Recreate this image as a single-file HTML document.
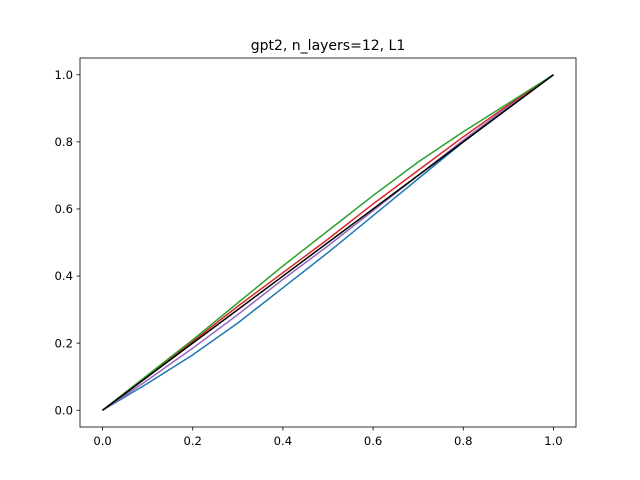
<!DOCTYPE html>
<html><head><meta charset="utf-8"><style>body{margin:0;background:#fff}svg{display:block;font-family:"DejaVu Sans","Liberation Sans",sans-serif}</style></head>
<body>
<svg id="chart" width="640" height="480"></svg>
<script>
const xVals=[0,0.1,0.2,0.3,0.4,0.5,0.6,0.7,0.8,0.9,1.0];
const blueVals=[0,0.08,0.165,0.26,0.365,0.47,0.58,0.69,0.8,0.9,1.0];
const purpleVals=[0,0.09,0.185,0.285,0.39,0.49,0.595,0.7,0.805,0.905,1.0];
const redVals=[0,0.1,0.205,0.31,0.41,0.51,0.615,0.715,0.815,0.91,1.0];
const greenVals=[0,0.105,0.21,0.32,0.43,0.535,0.64,0.74,0.83,0.915,1.0];
const blackVals=[0,0.1,0.2,0.3,0.4,0.5,0.6,0.7,0.8,0.9,1.0];
const seriesColors=["#1f77b4","#9467bd","#d62728","#2ca02c","#000000"];
const seriesNames=["blue-series","purple-series","red-series","green-series","black-series"];
const allSeries=[blueVals,purpleVals,redVals,greenVals,blackVals];
const xTicks=[0.0,0.2,0.4,0.6,0.8,1.0];
const yTicks=[0.0,0.2,0.4,0.6,0.8,1.0];
const NS="http://www.w3.org/2000/svg";
const svg=document.getElementById('chart');
const L=80,R=576,T=58,B=427;
const sx=v=>L+(v+0.05)/1.1*(R-L);
const sy=v=>B-(v+0.05)/1.1*(B-T);
function mk(tag,attrs,parent){const e=document.createElementNS(NS,tag);for(const k in attrs)e.setAttribute(k,attrs[k]);(parent||svg).appendChild(e);return e;}
const title=mk('text',{x:(L+R)/2,y:50,'text-anchor':'middle','font-size':14,fill:'#000'});
title.textContent='gpt2, n_layers=12, L1';


allSeries.forEach((vals,i)=>{
  const p=mk('polyline',{points:vals.map((v,j)=>sx(xVals[j])+','+sy(v)).join(' '),fill:'none',stroke:seriesColors[i],'stroke-width':1.5,'stroke-linejoin':'round'});
  
  
});
const frame=mk('rect',{x:L,y:T,width:R-L,height:B-T,fill:'none',stroke:'#000','stroke-width':0.8});


xTicks.forEach(t=>{
  mk('line',{x1:sx(t),x2:sx(t),y1:B,y2:B+3.5,stroke:'#000','stroke-width':0.8});
  const tx=mk('text',{x:sx(t),y:B+18,'text-anchor':'middle','font-size':11.6,fill:'#000'});
  tx.textContent=t.toFixed(1);
  
  
});
yTicks.forEach(t=>{
  mk('line',{x1:L-3.5,x2:L,y1:sy(t),y2:sy(t),stroke:'#000','stroke-width':0.8});
  const tx=mk('text',{x:L-7,y:sy(t)+4.2,'text-anchor':'end','font-size':11.6,fill:'#000'});
  tx.textContent=t.toFixed(1);
  
  
});
</script>
</body></html>
